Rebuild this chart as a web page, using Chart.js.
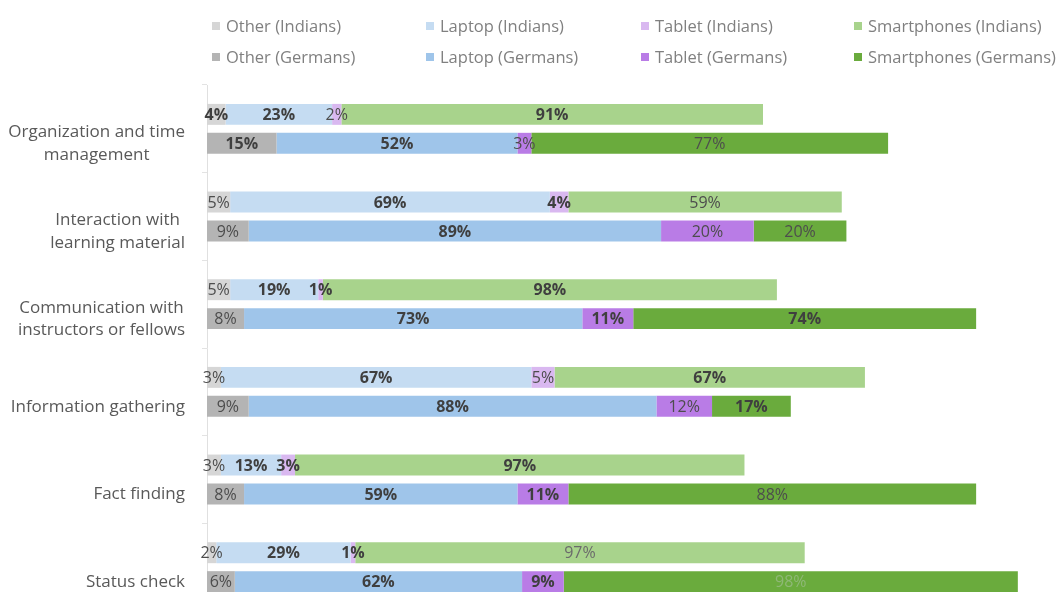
<!DOCTYPE html>
<html lang="en">
<head>
    <meta charset="UTF-8">
    <title>Device usage by activity</title>
    <script src="https://cdn.jsdelivr.net/npm/chart.js"></script>
    <style>
        body { margin: 0; background: #fff; overflow: hidden; font-family: "Open Sans", sans-serif; }
        #wrap { position: relative; width: 1064px; height: 612px; }
        #legend {
            position: absolute; left: 212px; top: 10px;
            display: grid; grid-template-columns: 214px 215px 213px 210px; grid-auto-rows: 31px;
            font-size: 16.5px; color: #808080;
        }
        #legend div { display: flex; align-items: center; white-space: nowrap; }
        #legend span.box { width: 8px; height: 8px; margin-right: 6px; display: inline-block; }
    </style>
</head>
<body>
    <div id="wrap">
        <canvas id="usageChart"></canvas>
        <div id="legend"></div>
    </div>

    <script>
        // Categories (top to bottom) and share of each device per group, in %
        const categories = [
            ['Organization and time', 'management'],
            ['Interaction with', 'learning material'],
            ['Communication with', 'instructors or fellows'],
            ['Information gathering'],
            ['Fact finding'],
            ['Status check']
        ];

        const otherIndians  = [4, 5, 5, 3, 3, 2];
        const laptopIndians = [23, 69, 19, 67, 13, 29];
        const tabletIndians = [2, 4, 1, 5, 3, 1];
        const smartIndians  = [91, 59, 98, 67, 97, 97];

        const otherGermans  = [15, 9, 8, 9, 8, 6];
        const laptopGermans = [52, 89, 73, 88, 59, 62];
        const tabletGermans = [3, 20, 11, 12, 11, 9];
        const smartGermans  = [77, 20, 74, 17, 88, 98];

        // label weight per segment: b = bold, r = regular, f = faint
        const labelWeights = [
            ['b', 'r', 'r', 'r', 'r', 'r'],
            ['b', 'b', 'b', 'b', 'b', 'b'],
            ['r', 'b', 'b', 'r', 'b', 'b'],
            ['b', 'r', 'b', 'b', 'b', 'f'],
            ['b', 'r', 'r', 'r', 'r', 'r'],
            ['b', 'b', 'b', 'b', 'b', 'b'],
            ['r', 'r', 'b', 'r', 'b', 'b'],
            ['r', 'r', 'b', 'b', 'r', 'f']
        ];

        function ds(label, data, color, stack) {
            return { label, data, backgroundColor: color, stack, borderWidth: 0,
                     categoryPercentage: 0.66, barPercentage: 0.724 };
        }

        const datasets = [
            ds('Other (Indians)', otherIndians, '#d6d6d6', 'Indians'),
            ds('Laptop (Indians)', laptopIndians, '#c5dcf2', 'Indians'),
            ds('Tablet (Indians)', tabletIndians, '#d9b8f0', 'Indians'),
            ds('Smartphones (Indians)', smartIndians, '#a8d38c', 'Indians'),
            ds('Other (Germans)', otherGermans, '#b4b4b4', 'Germans'),
            ds('Laptop (Germans)', laptopGermans, '#9fc5ea', 'Germans'),
            ds('Tablet (Germans)', tabletGermans, '#b97ce6', 'Germans'),
            ds('Smartphones (Germans)', smartGermans, '#6aab3d', 'Germans')
        ];

        // Percent labels centred on each segment
        const segmentLabels = {
            id: 'segmentLabels',
            afterDatasetsDraw(chart) {
                const ctx = chart.ctx;
                ctx.save();
                ctx.textAlign = 'center';
                ctx.textBaseline = 'middle';
                chart.data.datasets.forEach((d, di) => {
                    const meta = chart.getDatasetMeta(di);
                    meta.data.forEach((bar, i) => {
                        const w = labelWeights[di][i];
                        ctx.font = (w === 'b' ? 'bold ' : '') + '16px "Open Sans"';
                        ctx.fillStyle = w === 'b' ? '#3f3f3f' : (w === 'f' ? (d.stack === 'Germans' ? '#8fb877' : '#6b6b6b') : '#4d4d4d');
                        ctx.fillText(d.data[i] + '%', (bar.x + bar.base) / 2, bar.y + 1);
                    });
                });
                ctx.restore();
            }
        };

        // Category names, right-aligned block with centred lines
        const categoryLabels = {
            id: 'categoryLabels',
            afterDraw(chart) {
                const ctx = chart.ctx;
                const yScale = chart.scales.y;
                ctx.save();
                ctx.font = '17px "Open Sans"';
                ctx.fillStyle = '#595959';
                ctx.textAlign = 'center';
                ctx.textBaseline = 'middle';
                const lineH = 22.5;
                chart.data.labels.forEach((lines, i) => {
                    const widest = Math.max(...lines.map(l => ctx.measureText(l).width));
                    const cx = 185 - widest / 2;
                    const cy = yScale.getPixelForValue(i) + 15;
                    lines.forEach((l, k) => {
                        ctx.fillText(l, cx, cy + (k - (lines.length - 1) / 2) * lineH);
                    });
                });
                ctx.restore();
            }
        };

        const chart = new Chart(document.getElementById('usageChart'), {
            type: 'bar',
            data: { labels: categories, datasets },
            options: {
                indexAxis: 'y',
                responsive: true,
                maintainAspectRatio: false,
                animation: false,
                layout: { padding: { top: 85, bottom: 1, left: 202, right: 23 } },
                plugins: { legend: { display: false }, tooltip: { enabled: false } },
                scales: {
                    x: { stacked: true, min: 0, max: 180, display: false },
                    y: {
                        stacked: true,
                        ticks: { display: false },
                        grid: { drawOnChartArea: false, tickLength: 5, color: '#e3e3e3' },
                        border: { color: '#e0e0e0' }
                    }
                }
            },
            plugins: [segmentLabels, categoryLabels]
        });

        // Legend: four columns, Indians on the first row, Germans on the second
        const legend = document.getElementById('legend');
        chart.data.datasets.forEach(d => {
            legend.innerHTML += `<div><span class="box" style="background:${d.backgroundColor}"></span>${d.label}</div>`;
        });
    </script>
</body>
</html>
